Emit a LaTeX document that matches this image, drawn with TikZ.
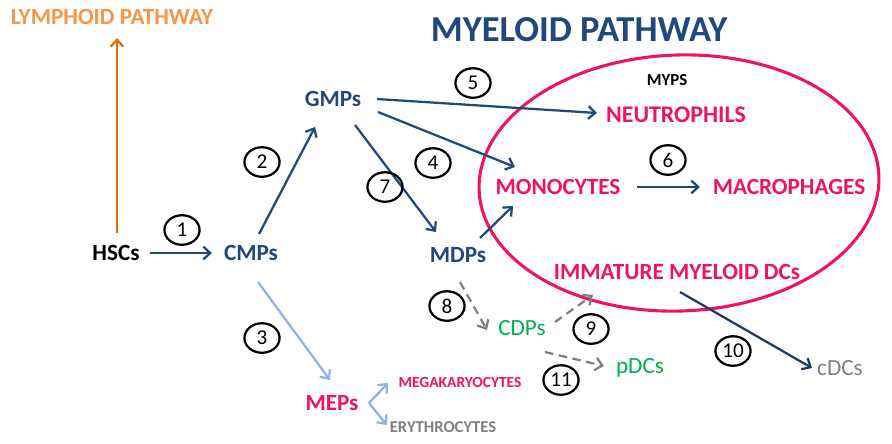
\documentclass[tikz,border=0pt]{standalone}
\usepackage{fontspec}
\setmainfont{Carlito}
\usetikzlibrary{arrows.meta,shapes.geometric}

\definecolor{darkblue}{HTML}{1F497D}
\definecolor{navyblue}{HTML}{1F3864}
\definecolor{hotpink}{HTML}{F0145A}
\definecolor{paleblue}{HTML}{8DB4E2}
\definecolor{darkorange}{HTML}{E46C0A}
\definecolor{softorange}{HTML}{F79646}
\definecolor{cellgreen}{HTML}{00B050}
\definecolor{cellgray}{HTML}{808080}

\tikzset{
  cell/.style={font=\fontsize{16.5}{18}\selectfont\bfseries, inner sep=1pt},
  small cell/.style={font=\fontsize{11}{13}\selectfont\bfseries, inner sep=1pt},
  num/.style={ellipse, draw=black, line width=1.6pt, minimum width=25pt, minimum height=21pt,
    inner sep=0pt, font=\fontsize{15}{16}\selectfont},
  flow/.style={line width=1.6pt, -{Straight Barb[length=5pt,width=9pt]}},
  dflow/.style={flow, cellgray, dash pattern=on 6pt off 4pt}
}

\begin{document}
\begin{tikzpicture}[x=0.025cm, y=-0.025cm]
    \useasboundingbox (0,0) rectangle (892,443);

    % titles
    \node[cell, softorange] (lym) at (112,17) {LYMPHOID PATHWAY};
    \node[font=\fontsize{26}{28}\selectfont\bfseries, darkblue] (mye) at (579,30) {MYELOID PATHWAY};

    % the MYPS ring
    \draw[hotpink, line width=2.2pt, rotate around={2:(679,183)}] (679,183) ellipse [x radius=200, y radius=128];
    \node[small cell, font=\fontsize{12}{14}\selectfont\bfseries] (myps) at (667,80) {MYPS};

    % draw nodes
    \node[cell] (hsc) at (116,253) {HSCs};
    \node[cell, darkblue] (cmp) at (251,253) {CMPs};
    \node[cell, darkblue] (gmp) at (333,99) {GMPs};
    \node[cell, darkblue] (mdp) at (458,255) {MDPs};
    \node[cell, hotpink] (mep) at (332,403) {MEPs};
    \node[cell, hotpink, font=\fontsize{17}{18}\selectfont\bfseries] (neu) at (676,115) {NEUTROPHILS};
    \node[cell, hotpink] (mono) at (558,187) {MONOCYTES};
    \node[cell, hotpink] (macro) at (789,187) {MACROPHAGES};
    \node[cell, hotpink] (imm) at (677,272) {IMMATURE MYELOID DCs};
    \node[cell, cellgreen, font=\fontsize{16.5}{18}\selectfont] (cdp) at (522,328) {CDPs};
    \node[cell, cellgreen, font=\fontsize{16.5}{18}\selectfont] (pdc) at (640,368) {pDCs};
    \node[cell, cellgray, font=\fontsize{16.5}{18}\selectfont] (cdc) at (840,368) {cDCs};
    \node[small cell, hotpink] (mega) at (460,382) {MEGAKARYOCYTES};
    \node[small cell, cellgray, font=\fontsize{11.8}{13}\selectfont\bfseries] (ery) at (443,427) {ERYTHROCYTES};
    \coordinate (fork) at (369,403);

    % draw arrows
    \draw[flow, darkorange] ([shift={(1,-20)}] hsc.center) -- ([shift={(5,21)}] lym.center);
    \draw[flow, darkblue] ([shift={(34,0)}] hsc.center) -- ([shift={(-39,0)}] cmp.center);
    \draw[flow, darkblue] ([shift={(8,-19)}] cmp.center) -- ([shift={(-18,28)}] gmp.center);
    \draw[flow, darkblue] ([shift={(44,0)}] gmp.center) -- ([shift={(-79,-2)}] neu.center);
    \draw[flow, darkblue] ([shift={(45,13)}] gmp.center) -- ([shift={(-43,-20)}] mono.center);
    \draw[flow, darkblue] ([shift={(22,26)}] gmp.center) -- ([shift={(-22,-23)}] mdp.center);
    \draw[flow, darkblue] ([shift={(22,-17)}] mdp.center) -- ([shift={(-45,19)}] mono.center);
    \draw[flow, darkblue] ([shift={(79,0)}] mono.center) -- ([shift={(-89,0)}] macro.center);
    \draw[flow, navyblue] ([shift={(3,20)}] imm.center) -- ([shift={(-28,0)}] cdc.center);
    \draw[flow, paleblue] ([shift={(7,29)}] cmp.center) -- ([shift={(-2,-23)}] mep.center);
    \draw[flow, paleblue] (fork) -- ([shift={(-72,1)}] mega.center);
    \draw[flow, paleblue] (fork) -- ([shift={(-56,-2)}] ery.center);
    \draw[dflow] ([shift={(2,27)}] mdp.center) -- ([shift={(-35,2)}] cdp.center);
    \draw[dflow] ([shift={(33,-6)}] cdp.center) -- ([shift={(-84,23)}] imm.center);
    \draw[dflow] ([shift={(23,24)}] cdp.center) -- ([shift={(-36,-2)}] pdc.center);

    % step numbers
    \node[num] (n1) at (182,230) {1};
    \node[num] (n2) at (262,162) {2};
    \node[num] (n3) at (262,338) {3};
    \node[num] (n4) at (433,163) {4};
    \node[num] (n5) at (473,83) {5};
    \node[num] (n6) at (668,160) {6};
    \node[num] (n7) at (385,187) {7};
    \node[num] (n8) at (447,306) {8};
    \node[num] (n9) at (591,329) {9};
    \node[num] (n10) at (733,351) {10};
    \node[num] (n11) at (561,380) {11};
\end{tikzpicture}
\end{document}
